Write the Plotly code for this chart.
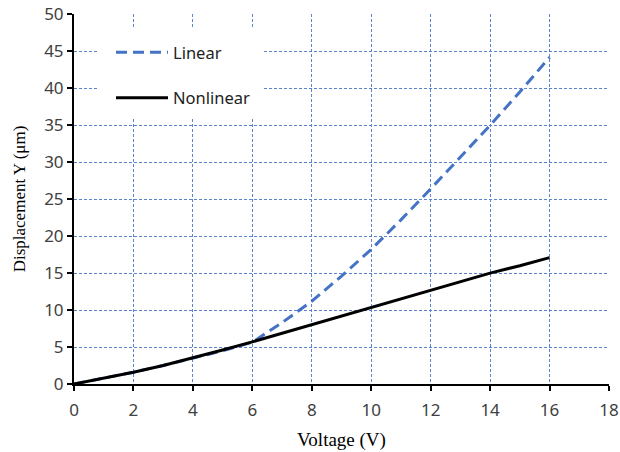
import plotly.graph_objects as go

voltage = list(range(0, 17))
linear = [0, 0.75, 1.6, 2.5, 3.5, 4.5, 5.65, 8.3, 11.2, 14.6, 18.2, 22.2, 26.4, 30.7, 35.0, 39.5, 44.2]
nonlinear = [0, 0.75, 1.6, 2.5, 3.5, 4.6, 5.7, 6.85, 8.0, 9.2, 10.4, 11.55, 12.7, 13.85, 15.0, 16.0, 17.1]

x_ticks = list(range(0, 19, 2))
y_ticks = list(range(0, 51, 5))

fig = go.Figure()
fig.add_trace(go.Scatter(x=voltage, y=linear, mode="lines", name="Linear",
                         legendgroup="a",
                         line=dict(color="#4472C4", width=3, dash="11px,6px")))
fig.add_trace(go.Scatter(x=voltage, y=nonlinear, mode="lines", name="Nonlinear",
                         legendgroup="b",
                         line=dict(color="black", width=3)))

grid = dict(showgrid=True, gridcolor="#5b84cc", gridwidth=1, griddash="3px,2px")
common = dict(showline=True, linecolor="black", linewidth=2,
              ticks="outside", ticklen=5, tickwidth=2, tickcolor="black",
              zeroline=False, automargin=False,
              tickfont=dict(family="Noto Sans", size=17, color="#404040"))
fig.update_xaxes(range=[0, 18], tickvals=x_ticks, **grid, **common,
                 ticklabelstandoff=5,
                 title=dict(text="Voltage (V)", font=dict(family="Liberation Serif", size=19, color="black"), standoff=12))
fig.update_yaxes(range=[0, 50.05], tickvals=y_ticks, **grid, **common,
                 title=dict(text="Displacement Y (μm)", font=dict(family="Liberation Serif", size=17, color="black"), standoff=14))

# white backing behind the legend (covers gridlines there)
PW, PH = 535, 370
fig.add_shape(type="rect", xref="paper", yref="paper",
              x0=25 / PW, x1=190 / PW,
              y0=(PH - 104) / PH, y1=(PH - 13) / PH,
              fillcolor="white", line=dict(width=0), layer="above")

fig.update_layout(
    width=620, height=452,
    margin=dict(l=74, r=11, t=14, b=68),
    plot_bgcolor="white", paper_bgcolor="white",
    legend=dict(x=37 / PW, y=1 - 21 / PH, xanchor="left", yanchor="top",
                bgcolor="rgba(0,0,0,0)", tracegroupgap=21, itemwidth=52,
                font=dict(family="Noto Sans", size=16.5, color="#222222")),
)

fig.write_html("out.html", config={"displayModeBar": False},
               post_script="document.body.style.margin='0px';")
